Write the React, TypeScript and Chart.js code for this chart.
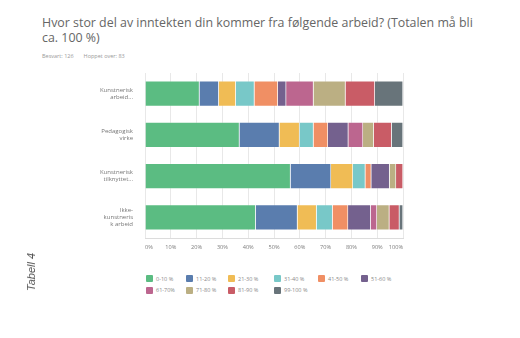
import React, { useEffect, useRef } from 'react';
import { Chart, registerables } from 'chart.js';
Chart.register(...registerables);

const categories: string[][] = [
  ['Kunstnerisk', 'arbeid...'],
  ['Pedagogisk', 'virke'],
  ['Kunstnerisk', 'tilknyttet...'],
  ['Ikke-', 'kunstneris', 'k arbeid'],
];
const seriesNames = ['0-10 %', '11-20 %', '21-30 %', '31-40 %', '41-50 %', '51-60 %', '61-70%', '71-80 %', '81-90 %', '99-100 %'];
const seriesColors = ['#5BBC82', '#5A7DAE', '#F0BC55', '#78C8C8', '#F08F64', '#74618E', '#BC668F', '#BBAF83', '#C95C66', '#68747A'];
const s0_10 = [21.1, 36.6, 56.4, 42.9];
const s11_20 = [7.5, 15.5, 15.7, 16.2];
const s21_30 = [6.6, 7.8, 8.5, 7.4];
const s31_40 = [7.2, 5.4, 4.8, 6.2];
const s41_50 = [9.1, 5.6, 2.3, 6.0];
const s51_60 = [3.2, 7.9, 7.1, 8.8];
const s61_70 = [10.6, 5.7, 0, 2.4];
const s71_80 = [12.4, 4.2, 2.5, 4.8];
const s81_90 = [11.4, 6.9, 2.7, 3.9];
const s99_100 = [10.9, 4.4, 0, 1.4];
const seriesValues = [s0_10, s11_20, s21_30, s31_40, s41_50, s51_60, s61_70, s71_80, s81_90, s99_100];
const xTicks = [0, 10, 20, 30, 40, 50, 60, 70, 80, 90, 100];

const FONT = "'Open Sans', 'Noto Sans', sans-serif";

export default function App() {
  const ref = useRef<HTMLCanvasElement | null>(null);
  useEffect(() => {
    document.body.style.margin = '0';
    const ctx = ref.current!;
    const chart = new Chart(ctx, {
      type: 'bar',
      data: {
        labels: categories,
        datasets: seriesNames.map((name, i) => ({
          label: name,
          data: seriesValues[i],
          backgroundColor: seriesColors[i],
          borderColor: 'rgba(255,255,255,0.25)',
          borderWidth: 0.6,
          barPercentage: 0.62,
          categoryPercentage: 1,
        })),
      },
      options: {
        indexAxis: 'y',
        animation: false,
        responsive: false,
        layout: { padding: { top: 73, right: 117, bottom: 10, left: 0 } },
        plugins: { legend: { display: false }, tooltip: { enabled: false }, title: { display: false } },
        scales: {
          y: {
            stacked: true,
            grid: { display: false },
            border: { display: false },
            ticks: { font: { size: 6, family: FONT, lineHeight: 1.15 }, color: '#777', padding: 4 },
            afterFit: (s: any) => { s.width = 145; },
          },
          x: {
            stacked: true,
            min: 0,
            max: 100,
            afterBuildTicks: (s: any) => { s.ticks = xTicks.map((v) => ({ value: v })); },
            ticks: {
              font: { size: 5.6, family: FONT },
              color: '#7d7d7d',
              padding: 6,
              align: 'inner',
              maxRotation: 0,
              callback: (v: any) => v + '%',
            },
            grid: { color: '#e8e8e8', drawTicks: false, lineWidth: 1 },
            border: { color: '#dcdcdc' },
            afterFit: (s: any) => { s.height = 14; },
          },
        },
      },
    } as any);
    return () => chart.destroy();
  }, []);

  return (
    <div style={{ position: 'fixed', left: 0, top: 0, width: 520, height: 338, background: '#fff', overflow: 'hidden', fontFamily: FONT }}>
      <div style={{ position: 'absolute', left: 42, top: 15, fontSize: 12.4, lineHeight: '15px', color: '#666', whiteSpace: 'nowrap' }}>
        Hvor stor del av inntekten din kommer fra følgende arbeid? (Totalen må bli
        <br />
        ca. 100 %)
      </div>
      <div style={{ position: 'absolute', left: 42, top: 52, fontSize: 5.5, color: '#999', whiteSpace: 'nowrap' }}>
        <span>Besvart: 126</span>
        <span style={{ marginLeft: 10 }}>Hoppet over: 83</span>
      </div>
      <canvas ref={ref} width={520} height={262} style={{ position: 'absolute', left: 0, top: 0 }} />
      <div style={{ position: 'absolute', left: 146, top: 275, display: 'grid', gridTemplateColumns: '40px 42px 46px 44px 43px auto', rowGap: 4 }}>
        {seriesNames.map((n, i) => (
          <div key={n} style={{ display: 'flex', alignItems: 'center', height: 7.5 }}>
            <div style={{ width: 7, height: 7, background: seriesColors[i], borderRadius: 1, flex: 'none' }} />
            <span style={{ marginLeft: 3, fontSize: 5.5, color: '#888', whiteSpace: 'nowrap' }}>{n}</span>
          </div>
        ))}
      </div>
      <div style={{ position: 'absolute', left: 31, top: 272, transform: 'translate(-50%, -50%) rotate(-90deg)', fontFamily: "'Liberation Sans', Arial, sans-serif", fontStyle: 'italic', fontSize: 11, color: '#555', whiteSpace: 'nowrap' }}>
        Tabell 4
      </div>
    </div>
  );
}
